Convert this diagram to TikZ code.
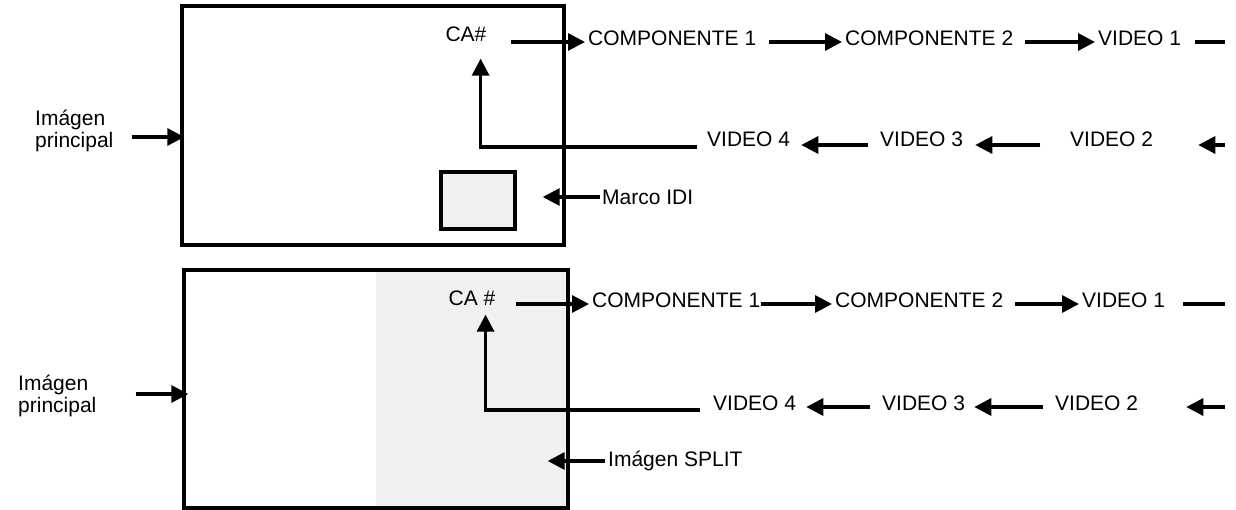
\documentclass[tikz,border=0pt]{standalone}
\usepackage{fontspec}
\setmainfont{Liberation Sans}
\usetikzlibrary{arrows.meta}
\definecolor{panel}{HTML}{F0F0F0}
\tikzset{
  lbl/.style={font=\fontsize{21}{22.5}\selectfont, inner sep=0pt, anchor=west},
  arr/.style={line width=3.2pt, -{Triangle[length=17pt,width=17pt]}},
  ln/.style={line width=3.2pt},
  frame/.style={draw, line width=3.4pt, inner sep=0pt},
}
\begin{document}
\begin{tikzpicture}[x=1pt,y=-1pt]
\useasboundingbox (0,0) rectangle (1236,510);

% ---------- top diagram ----------
\node[frame, minimum width=382pt, minimum height=239pt] (box1) at (373,125.5) {};
\node[frame, fill=panel, minimum width=74pt, minimum height=57pt] (idi) at (478,200.5) {};
\node[lbl, anchor=center] (ca1) at (466,34) {CA\#};
\node[lbl] (c11) at (588,38) {COMPONENTE 1};
\node[lbl] (c12) at (845,38) {COMPONENTE 2};
\node[lbl] (v11) at (1098,38) {VIDEO 1};
\coordinate (e1) at (1225,42);
\node[lbl] (v14) at (707,139) {VIDEO 4};
\node[lbl] (v13) at (880,139) {VIDEO 3};
\node[lbl] (v12) at (1070,139) {VIDEO 2};
\coordinate (s1) at (1225,145);
\node[lbl, align=left] (ip1) at (35,131) {Imágen\\principal};
\node[lbl] (marco) at (602,197) {Marco IDI};

\draw[arr] ([xshift=24pt,yshift=-8pt]ca1.east) -- ([xshift=-3pt,yshift=-4pt]c11.west);
\draw[arr] ([xshift=13pt,yshift=-4pt]c11.east) -- ([xshift=-3pt,yshift=-4pt]c12.west);
\draw[arr] ([xshift=12pt,yshift=-4pt]c12.east) -- ([xshift=-3pt,yshift=-4pt]v11.west);
\draw[ln] ([xshift=14pt,yshift=-4pt]v11.east) -- (e1);
\draw[arr] (s1) -- ([xshift=45pt,yshift=-6pt]v12.east);
\draw[arr] ([xshift=-30pt,yshift=-6pt]v12.west) -- ([xshift=12pt,yshift=-6pt]v13.east);
\draw[arr] ([xshift=-12pt,yshift=-6pt]v13.west) -- ([xshift=11pt,yshift=-6pt]v14.east);
\draw[arr] ([xshift=-10pt,yshift=-8pt]v14.west) -| ([xshift=-6pt,yshift=-17pt]ca1.south east);
\draw[arr, shorten >=-4pt] ([xshift=18pt,yshift=-6pt]ip1.east) -- ([yshift=-6pt]ip1.east -| box1.west);
\draw[arr] ([xshift=-2pt]marco.west) -- ([xshift=26pt]marco.west -| idi.east);

% ---------- bottom diagram ----------
\node[frame, minimum width=384pt, minimum height=238pt,
  path picture={\fill[panel] (path picture bounding box.north) rectangle (path picture bounding box.south east);}]
  (box2) at (376,389) {};
\node[lbl, anchor=center] (ca2) at (472,298) {CA \#};
\node[lbl] (c21) at (592,300) {COMPONENTE 1};
\node[lbl] (c22) at (835,300) {COMPONENTE 2};
\node[lbl] (v21) at (1082,300) {VIDEO 1};
\coordinate (e2) at (1225,304);
\node[lbl] (v24) at (713,403) {VIDEO 4};
\node[lbl] (v23) at (882,403) {VIDEO 3};
\node[lbl] (v22) at (1055,403) {VIDEO 2};
\coordinate (s2) at (1225,407);
\node[lbl, align=left] (ip2) at (18,396) {Imágen\\principal};
\node[lbl] (split) at (608,461) {Imágen SPLIT};

\draw[arr] ([xshift=20pt,yshift=-6pt]ca2.east) -- ([xshift=-3pt,yshift=-4pt]c21.west);
\draw[arr] ([xshift=1pt,yshift=-4pt]c21.east) -- ([xshift=-3pt,yshift=-4pt]c22.west);
\draw[arr] ([xshift=12pt,yshift=-4pt]c22.east) -- ([xshift=-3pt,yshift=-4pt]v21.west);
\draw[ln] ([xshift=18pt,yshift=-4pt]v21.east) -- (e2);
\draw[arr] (s2) -- ([xshift=48pt,yshift=-4pt]v22.east);
\draw[arr] ([xshift=-12pt,yshift=-4pt]v22.west) -- ([xshift=9pt,yshift=-4pt]v23.east);
\draw[arr] ([xshift=-12pt,yshift=-4pt]v23.west) -- ([xshift=10pt,yshift=-4pt]v24.east);
\draw[arr] ([xshift=-13pt,yshift=-7pt]v24.west) -| ([xshift=-10pt,yshift=-9pt]ca2.south east);
\draw[arr, shorten >=-6pt] ([xshift=39pt,yshift=2pt]ip2.east) -- ([yshift=2pt]ip2.east -| box2.west);
\draw[arr] ([xshift=-3pt]split.west) -- ([xshift=-22pt]split.west -| box2.east);
\end{tikzpicture}
\end{document}
